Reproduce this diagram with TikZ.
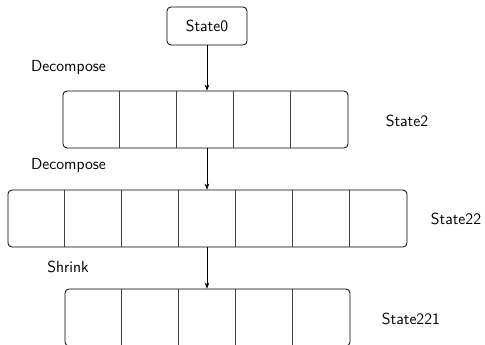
\documentclass[tikz,border=0pt]{standalone}
\usetikzlibrary{arrows.meta}
\begin{document}
\begin{tikzpicture}[x=0.75pt,y=-0.75pt,
  font=\fontsize{12}{14}\selectfont\sffamily,
  statebox/.style={draw=black,line width=0.6pt,rounded corners=3pt,inner sep=0pt},
  divider/.style={draw=black!75,line width=0.5pt},
  flow/.style={line width=0.5pt,-{Stealth[length=4.5pt,width=3.5pt]}},
  lbl/.style={inner sep=0pt}]
\useasboundingbox (0,0) rectangle (485,345);
\node[statebox,minimum width=60pt,minimum height=28.5pt] (s0) at (207,26) {State0};
\node[statebox,minimum width=213.75pt,minimum height=42.75pt] (s2) at (205.5,119.5) {};
\node[statebox,minimum width=299.25pt,minimum height=42.75pt] (s22) at (207.5,218.5) {};
\node[statebox,minimum width=213.75pt,minimum height=42.75pt] (s221) at (207.5,317.5) {};
\foreach \k in {1,...,4}
  \draw[divider] ([xshift=\k*42.75pt]s2.north west) -- ([xshift=\k*42.75pt]s2.south west);
\foreach \k in {1,...,6}
  \draw[divider] ([xshift=\k*42.75pt]s22.north west) -- ([xshift=\k*42.75pt]s22.south west);
\foreach \k in {1,...,4}
  \draw[divider] ([xshift=\k*42.75pt]s221.north west) -- ([xshift=\k*42.75pt]s221.south west);
\node[lbl] (d1) at (68.5,68) {Decompose};
\node[lbl] (d2) at (68.5,166) {Decompose};
\node[lbl] (sh) at (68,267) {Shrink};
\node[lbl] (l2) at (407,121) {State2};
\node[lbl] (l22) at (456,219) {State22};
\node[lbl] (l221) at (411,319) {State221};
\draw[flow] (s0.south) -- (s0.south |- s2.north);
\draw[flow] (s0.south |- s2.south) -- (s0.south |- s22.north);
\draw[flow] (s0.south |- s22.south) -- (s0.south |- s221.north);
\end{tikzpicture}
\end{document}
